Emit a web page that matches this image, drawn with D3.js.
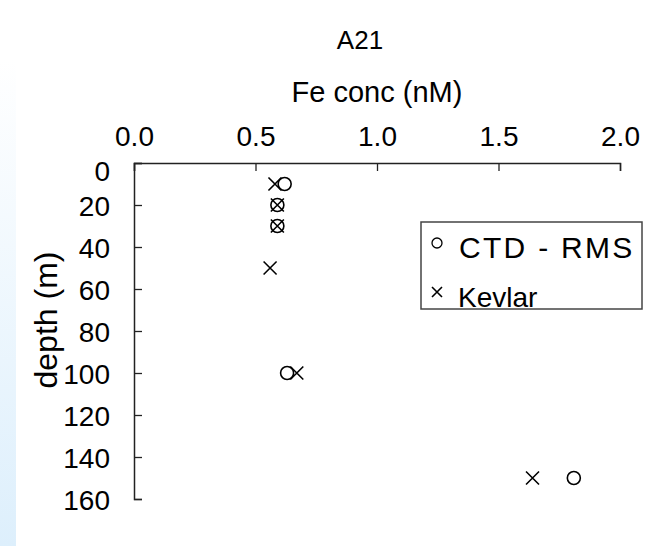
<!DOCTYPE html>
<html>
<head>
<meta charset="utf-8">
<script src="https://cdn.jsdelivr.net/npm/d3@7"></script>
<style>
  body { margin: 0; background: #fff; }
  text { font-family: "Liberation Sans", Arial, sans-serif; fill: #000; }
</style>
</head>
<body>
<script>
// values
var title = "A21",
    xTitle = "Fe conc (nM)",
    yTitle = "depth (m)";
var xTicks = [0, 0.5, 1.0, 1.5, 2.0];
var yTicks = [0, 20, 40, 60, 80, 100, 120, 140, 160];
var ctdDepth = [10, 20, 30, 100, 150],
    ctdFe = [0.62, 0.59, 0.59, 0.63, 1.81];
var kevDepth = [10, 20, 30, 50, 100, 150],
    kevFe = [0.58, 0.59, 0.59, 0.56, 0.67, 1.64];
var seriesNames = ["CTD - RMS", "Kevlar"];

var W = 671, H = 546;
var svg = d3.select("body").append("svg").attr("width", W).attr("height", H);

// faint blue strip at the left edge
var grad = svg.append("defs").append("linearGradient")
    .attr("id", "strip").attr("x1", 0).attr("y1", 0).attr("x2", 0).attr("y2", 1);
grad.append("stop").attr("offset", "0%").attr("stop-color", "#ffffff");
grad.append("stop").attr("offset", "100%").attr("stop-color", "#ddeffc");
svg.append("rect").attr("x", 0).attr("y", 60).attr("width", 16).attr("height", H - 60)
    .attr("fill", "url(#strip)");

var x = d3.scaleLinear().domain([0, 2]).range([134, 620]);
var y = d3.scaleLinear().domain([0, 160]).range([163, 499]);

// top axis
var xAxis = svg.append("g").attr("transform", "translate(0," + y(0) + ")")
    .call(d3.axisTop(x).tickValues(xTicks).tickSize(-8).tickPadding(17).tickFormat(d3.format(".1f")));
// left axis
var yAxis = svg.append("g").attr("transform", "translate(" + x(0) + ",0)")
    .call(d3.axisLeft(y).tickValues(yTicks).tickSize(-8).tickPadding(24));

[xAxis, yAxis].forEach(function(a) {
    a.select(".domain").attr("stroke", "#222").attr("stroke-width", 1.5);
    a.selectAll(".tick line").attr("stroke", "#222").attr("stroke-width", 1.3);
    a.selectAll(".tick text").style("font-size", "28px").attr("fill", "#000");
});
yAxis.selectAll(".tick text").attr("dy", function(d) { return d === 0 ? "0.62em" : "0.36em"; });

svg.append("text").attr("x", 360).attr("y", 49).attr("text-anchor", "middle")
    .style("font-size", "26px").text(title);
svg.append("text").attr("x", 377).attr("y", 102).attr("text-anchor", "middle")
    .style("font-size", "29px").text(xTitle);
svg.append("text").attr("transform", "translate(57,320) rotate(-90)")
    .attr("text-anchor", "middle").style("font-size", "32px").text(yTitle);

function cross(g, cx, cy, s) {
    g.append("path")
        .attr("d", "M" + (cx - s) + "," + (cy - s) + "L" + (cx + s) + "," + (cy + s) +
                   "M" + (cx - s) + "," + (cy + s) + "L" + (cx + s) + "," + (cy - s))
        .attr("stroke", "#000").attr("stroke-width", 1.6).attr("fill", "none");
}

var marks = svg.append("g");
marks.selectAll("circle").data(d3.range(ctdDepth.length)).enter().append("circle")
    .attr("cx", function(i) { return x(ctdFe[i]); })
    .attr("cy", function(i) { return y(ctdDepth[i]); })
    .attr("r", 6.5)
    .attr("fill", "none").attr("stroke", "#000").attr("stroke-width", 1.6);
d3.range(kevDepth.length).forEach(function(i) {
    cross(marks, x(kevFe[i]), y(kevDepth[i]), 6.5);
});

// legend (Kevlar is cut by the box edge)
var lx = 421, ly = 222, lw = 221, lh = 87;
svg.append("defs").append("clipPath").attr("id", "legclip")
    .append("rect").attr("x", lx).attr("y", ly).attr("width", lw).attr("height", lh);
var leg = svg.append("g");
leg.append("rect").attr("x", lx).attr("y", ly).attr("width", lw).attr("height", lh)
    .attr("fill", "#fff");
var legIn = leg.append("g").attr("clip-path", "url(#legclip)");
legIn.append("circle").attr("cx", 437).attr("cy", 243).attr("r", 5)
    .attr("fill", "none").attr("stroke", "#000").attr("stroke-width", 1.3);
cross(legIn, 437, 292, 5);
legIn.append("text").attr("x", 459).attr("y", 258).style("font-size", "30px")
    .style("letter-spacing", "2.3px").text(seriesNames[0]);
legIn.append("text").attr("x", 458).attr("y", 307).style("font-size", "28px")
    .text(seriesNames[1]);
leg.append("rect").attr("x", lx).attr("y", ly).attr("width", lw).attr("height", lh)
    .attr("fill", "none").attr("stroke", "#444").attr("stroke-width", 1.5);
</script>
</body>
</html>
